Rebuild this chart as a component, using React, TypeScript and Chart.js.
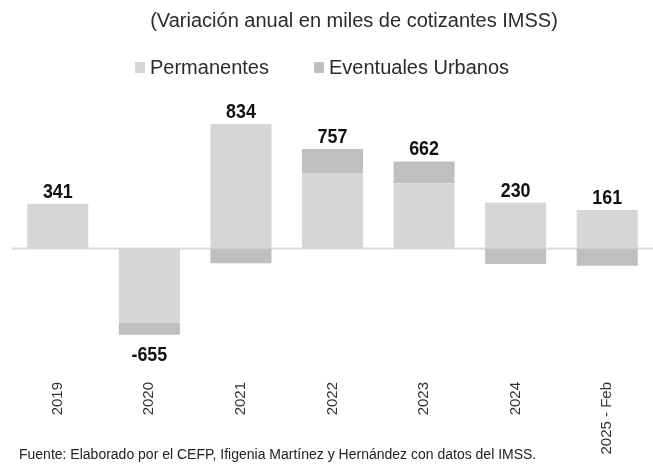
import React, { useEffect, useRef } from 'react';
import { Chart, registerables } from 'chart.js';

Chart.register(...registerables);

const categories = ['2019', '2020', '2021', '2022', '2023', '2024', '2025 - Feb'];
const permanentes = [341, -564, 946, 572, 497, 348, 292];
const eventuales = [0, -91, -112, 185, 165, -118, -131];
const totals = [341, -655, 834, 757, 662, 230, 161];
const seriesNames = ['Permanentes', 'Eventuales Urbanos'];
const seriesColors = ['#d6d6d6', '#bfbfbf'];
const titleText = '(Variación anual en miles de cotizantes IMSS)';
const sourceText = 'Fuente: Elaborado por el CEFP, Ifigenia Martínez y Hernández con datos del IMSS.';
const yMin = -1000;
const yMax = 1000;

const FONT = "'Liberation Sans', Arial, sans-serif";
const LABEL_FONT = "bold 21px 'Liberation Sans', Arial, sans-serif";

const decorPlugin = {
  id: 'decor',
  beforeDatasetsDraw(chart: any) {
    const { ctx, chartArea, scales } = chart;
    const y0 = scales.y.getPixelForValue(0);
    ctx.save();
    ctx.strokeStyle = '#d9d9d9';
    ctx.lineWidth = 2;
    ctx.beginPath();
    ctx.moveTo(chartArea.left, y0);
    ctx.lineTo(chartArea.right, y0);
    ctx.stroke();
    ctx.restore();
  },
  afterDraw(chart: any) {
    const { ctx, scales } = chart;
    ctx.save();
    // title
    ctx.fillStyle = '#2b2b2b';
    ctx.font = `20px ${FONT}`;
    ctx.textAlign = 'center';
    ctx.textBaseline = 'middle';
    ctx.fillText(titleText, 354, 21);

    // legend
    ctx.font = `20px ${FONT}`;
    ctx.textAlign = 'left';
    const legendX = [135, 314];
    seriesNames.forEach((name, i) => {
      ctx.fillStyle = seriesColors[i];
      ctx.fillRect(legendX[i], 62, 10, 11);
      ctx.fillStyle = '#2b2b2b';
      ctx.fillText(name, legendX[i] + 15, 68);
    });

    // totals
    const meta = chart.getDatasetMeta(0);
    ctx.font = LABEL_FONT;
    ctx.textAlign = 'center';
    ctx.textBaseline = 'alphabetic';
    ctx.fillStyle = '#111111';
    totals.forEach((t, i) => {
      const x = meta.data[i].x;
      const pos = [permanentes[i], eventuales[i]].filter((v) => v > 0).reduce((a, b) => a + b, 0);
      const neg = [permanentes[i], eventuales[i]].filter((v) => v < 0).reduce((a, b) => a + b, 0);
      const y = t >= 0 ? scales.y.getPixelForValue(pos) - 6 : scales.y.getPixelForValue(neg) + 26;
      ctx.save();
      ctx.translate(x, y);
      ctx.scale(0.85, 1);
      ctx.fillText(String(t), 0, 0);
      ctx.restore();
    });

    // source
    ctx.font = `14px ${FONT}`;
    ctx.textAlign = 'left';
    ctx.textBaseline = 'middle';
    ctx.fillStyle = '#222222';
    ctx.fillText(sourceText, 19, 455);
    ctx.restore();
  },
};

export default function App() {
  const canvasRef = useRef<HTMLCanvasElement | null>(null);

  useEffect(() => {
    document.body.style.margin = '0';
    const canvas = canvasRef.current;
    if (!canvas) return;
    const chart = new Chart(canvas, {
      type: 'bar',
      data: {
        labels: categories,
        datasets: [
          {
            label: seriesNames[0],
            data: permanentes,
            backgroundColor: seriesColors[0],
            borderWidth: 0,
          },
          {
            label: seriesNames[1],
            data: eventuales,
            backgroundColor: seriesColors[1],
            borderWidth: 0,
          },
        ],
      },
      options: {
        responsive: false,
        animation: false,
        layout: { padding: { top: 117, left: 12, right: 0, bottom: 0 } },
        datasets: {
          bar: { categoryPercentage: 1, barPercentage: 0.667 },
        },
        plugins: {
          legend: { display: false },
          title: { display: false },
          tooltip: { enabled: false },
        },
        scales: {
          x: {
            stacked: true,
            grid: { display: false, drawTicks: false },
            border: { display: false },
            ticks: {
              minRotation: 90,
              maxRotation: 90,
              padding: 2,
              color: '#333333',
              font: { family: FONT, size: 15 },
            },
            afterFit: (scale: any) => {
              scale.height = 96;
            },
          },
          y: {
            stacked: true,
            display: false,
            min: yMin,
            max: yMax,
          },
        },
      },
      plugins: [decorPlugin],
    });
    return () => chart.destroy();
  }, []);

  return (
    <div style={{ width: 653, height: 476, position: 'relative' }}>
      <canvas ref={canvasRef} width={653} height={476} style={{ display: 'block' }} />
    </div>
  );
}
